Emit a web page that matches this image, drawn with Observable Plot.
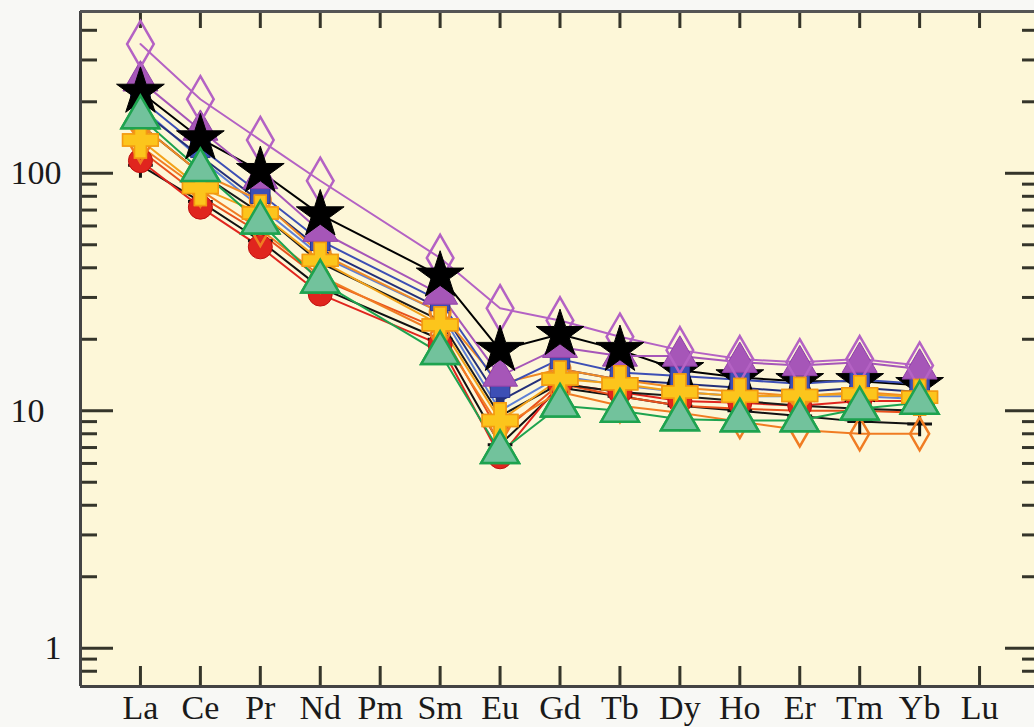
<!DOCTYPE html>
<html><head><meta charset="utf-8">
<script src="https://cdn.jsdelivr.net/npm/d3@7"></script>
<script src="https://cdn.jsdelivr.net/npm/@observablehq/plot@0.6"></script>
<style>body{margin:0;background:#f8f8f5;} #chart svg{display:block;}</style>
</head><body><div id="chart"></div>
<script>
// Chondrite-normalised REE values (Pm and Lu not reported)
const elements = ["La","Ce","Pr","Nd","Pm","Sm","Eu","Gd","Tb","Dy","Ho","Er","Tm","Yb","Lu"];
const yMajorTicks = [1, 10, 100];
const yMinorTicks = [0.8, 0.9, 2, 3, 4, 5, 6, 7, 8, 9, 20, 30, 40, 50, 60, 70, 80, 90, 200, 300, 400];

const sPurpleDiamond = [350, 205, 138, 93, null, 44, 27, 24, 20.5, 18, 16.5, 16, 16.5, 15.5, null];
const sBlackStar     = [220, 140, 102, 67, null, 37, 18, 21, 18, 14.8, 13.8, 13.3, 13.3, 12.8, null];
const sPurpleTri     = [245, 152, 95, 57, null, 31, 14, 18.5, 17, 17, 16, 15.5, 16, 15, null];
const sBlueSquare    = [205, 128, 82, 52, null, 29, 12.5, 16.5, 14.5, 14, 13.5, 13, 13.5, 13, null];
const sNavy          = [185, 118, 76, 48, null, 27, 11, 15, 13.5, 13, 12.5, 12, 12.5, 12, null];
const sLightBlue     = [190, 115, 72, 45, null, 26, 10, 14, 12.8, 12, 11.5, 11.5, 11.5, 11.2, null];
const sOrangeCircle  = [160, 100, 77, 46, null, 26, 13, 15, 13.5, 12.5, 12, 11.5, 12, 11.5, null];
const sBlackLine     = [160, 100, 68, 42, null, 24, 9.5, 13, 12, 11.5, 11, 10.5, 10.2, 10, null];
const sRedOrange     = [125, 80, 56, 36, null, 22, 8, 13, 11.5, 10.5, 10.2, 10, 10, 9.8, null];
const sOrangeDiamond = [130, 85, 58, 37, null, 21, 8.5, 12, 10.5, 9.8, 9, 8.3, 8, 8, null];
const sRedCircle     = [113, 72, 49, 31, null, 19, 6.4, 13, 12, 11, 10.8, 10.5, 11, 11, null];
const sBlackPlus     = [108, 76, 52, 33, null, 20, 7.2, 12.5, 11.5, 10.5, 10, 9.5, 9, 8.8, null];
const sYellowStar    = [138, 87, 68, 43, null, 23, 9.1, 13.6, 13, 12, 11.5, 11.6, 11.8, 11.4, null];
const sGreenTri      = [172, 103, 62, 35, null, 17.5, 6.7, 10.5, 10, 9.2, 9.1, 9.1, 10.2, 10.8, null];

// styles (drawing order: first drawn at bottom)
const blackStarStyle = {v: sBlackStar, line: "#000", symbol: "star", r: 15, fill: "#000", stroke: "#000", sw: 1};
const styles = [
  {v: sBlackPlus,     line: "#111",    symbol: "plus",     r: 8,  fill: "none",    stroke: "#111",    sw: 3},
  {v: sRedCircle,     line: "#e0251e", symbol: "circle",   r: 12, fill: "#e0251e", stroke: "#c01010", sw: 1},
  {v: sRedOrange,     line: "#e8501c", symbol: "circle",   r: 3,  fill: "#e8501c", stroke: "none",    sw: 1},
  {v: sOrangeDiamond, line: "#f07c22", symbol: "diamond",  r: 10, fill: "none",    stroke: "#f07c22", sw: 2.5},
  {v: sBlackLine,     line: "#1a1a1a", symbol: "circle",   r: 3,  fill: "#1a1a1a", stroke: "none",    sw: 1},
  {v: sLightBlue,     line: "#5d7fd6", symbol: "circle",   r: 3,  fill: "#5d7fd6", stroke: "none",    sw: 1},
  {v: sNavy,          line: "#24307a", symbol: "square",   r: 5,  fill: "#24307a", stroke: "none",    sw: 1},
  {v: sOrangeCircle,  line: "#f08a24", symbol: "circle",   r: 10, fill: "none",    stroke: "#f08a24", sw: 3},
  blackStarStyle,
  {v: sBlueSquare,    line: "#3d4fb5", symbol: "square",   r: 11, fill: "#3d4fb5", stroke: "#2a3590", sw: 1},
  {v: sPurpleTri,     line: "#a656b8", symbol: "triangle", r: 13, fill: "#a656b8", stroke: "#9040a8", sw: 1},
  {v: sPurpleDiamond, line: "#b462c4", symbol: "diamond",  r: 14, fill: "none",    stroke: "#b462c4", sw: 2.5},
  {v: sYellowStar,    line: "#f3a21a", symbol: "cross",    r: 15, fill: "#fcc51c", stroke: "#f39a10", sw: 1.5},
  {v: sGreenTri,      line: "#1ea34f", symbol: "triangle", r: 14, fill: "#72c29c", stroke: "#1ea34f", sw: 2.5}
];

const rowsOf = (vals) => vals.map((v, i) => ({i, v})).filter(d => d.v != null);
const xIdx = d3.range(elements.length);
const tc = "#35352a";
const W = 1034, H = 727, ML = 80, MR = 0, MT = 11, MB = 41;
const FW = W - ML - MR, FH = H - MT - MB;

const dotOf = (s, filter) => Plot.dot(rowsOf(s.v), {x: "i", y: "v", filter, symbol: s.symbol, r: s.r, fill: s.fill, stroke: s.stroke, strokeWidth: s.sw});

const marks = [
  Plot.frame({fill: "#fdf7d8", stroke: "none"}),
  // y ticks inside, left and right
  Plot.tickY(yMinorTicks, {y: d => d, stroke: tc, strokeWidth: 3, insetRight: FW - 17}),
  Plot.tickY(yMajorTicks, {y: d => d, stroke: tc, strokeWidth: 3, insetRight: FW - 33}),
  Plot.tickY(yMinorTicks, {y: d => d, stroke: tc, strokeWidth: 3, insetLeft: FW - 12}),
  Plot.tickY(yMajorTicks, {y: d => d, stroke: tc, strokeWidth: 3, insetLeft: FW - 29}),
  // x ticks inside, top and bottom
  Plot.tickX(xIdx, {x: d => d, stroke: tc, strokeWidth: 3, insetBottom: FH - 17}),
  Plot.tickX(xIdx, {x: d => d, stroke: tc, strokeWidth: 3, insetTop: FH - 20}),
  // border
  Plot.ruleX([-1], {stroke: "#444", strokeWidth: 3}),
  Plot.ruleY([480], {stroke: "#555", strokeWidth: 3}),
  Plot.ruleY([0.69], {stroke: "#444", strokeWidth: 3}),
  // labels
  Plot.text(xIdx, {x: d => d, text: d => elements[d], frameAnchor: "bottom", lineAnchor: "top", dy: 8, fontSize: 34, fill: "#1a1a1a"}),
  Plot.text([100, 10], {y: d => d, text: d => String(d), frameAnchor: "left", textAnchor: "start", dx: -70, fontSize: 34, fill: "#1a1a1a"}),
  Plot.text([1], {y: d => d, text: d => String(d), frameAnchor: "left", textAnchor: "end", dx: -19, fontSize: 34, fill: "#1a1a1a"}),
  ...styles.map(s => Plot.line(rowsOf(s.v), {x: "i", y: "v", stroke: s.line, strokeWidth: 2})),
  ...styles.map(s => s === blackStarStyle ? dotOf(s, d => d.i > 8) : dotOf(s)),
  // black stars of the light REE sit on top of the others
  dotOf(blackStarStyle, d => d.i <= 8),
  // keep yellow and green on the very top
  dotOf(styles[styles.length - 2]),
  dotOf(styles[styles.length - 1])
];

const chart = Plot.plot({
  width: W, height: H,
  marginLeft: ML, marginRight: MR, marginTop: MT, marginBottom: MB,
  x: {type: "linear", domain: [-1, 15], range: [ML, 1039], axis: null},
  y: {type: "log", domain: [0.69, 480], axis: null},
  style: {background: "transparent", fontFamily: "'Liberation Serif', 'DejaVu Serif', serif", overflow: "visible"},
  marks
});
document.getElementById("chart").appendChild(chart);
</script>
</body></html>
